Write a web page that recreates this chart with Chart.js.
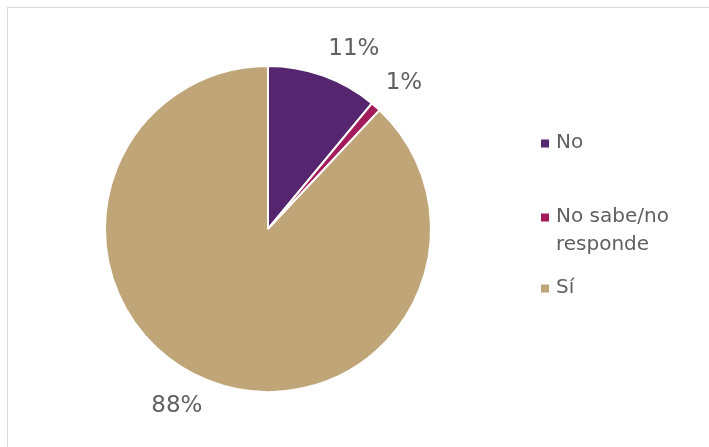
<!DOCTYPE html>
<html lang="es">
<head>
    <meta charset="UTF-8">
    <title>Encuesta</title>
    <script src="https://cdn.jsdelivr.net/npm/chart.js"></script>
    <style>
        body {
            margin: 0;
            background: #fff;
        }
        .frame {
            position: absolute;
            left: 7px;
            top: 7px;
            width: 720px;
            height: 460px;
            border: 1px solid #d9d9d9;
        }
        .wrap {
            position: absolute;
            left: 0;
            top: 0;
            width: 709px;
            height: 447px;
        }
    </style>
</head>
<body>
    <div class="frame"></div>
    <div class="wrap"><canvas id="pie" width="709" height="447"></canvas></div>

    <script>
        // Datos
        const categories = ['No', 'No sabe/no responde', 'Sí'];
        const legendLines = [['No'], ['No sabe/no', 'responde'], ['Sí']];
        const values = [11, 1, 88];
        const colors = ['#55256f', '#a21c5c', '#bfa577'];

        const textColor = '#606060';
        const fontFamily = '"DejaVu Sans", sans-serif';

        // etiquetas de porcentaje fuera de cada sector
        const outsideLabels = {
            id: 'outsideLabels',
            afterDatasetsDraw(chart) {
                const ctx = chart.ctx;
                const meta = chart.getDatasetMeta(0);
                ctx.save();
                ctx.font = '23px ' + fontFamily;
                ctx.fillStyle = textColor;
                ctx.textAlign = 'center';
                ctx.textBaseline = 'middle';
                meta.data.forEach((arc, i) => {
                    const p = arc.getProps(['x', 'y', 'startAngle', 'endAngle', 'outerRadius'], true);
                    const mid = (p.startAngle + p.endAngle) / 2;
                    const dx = Math.cos(mid), dy = Math.sin(mid);
                    const txt = values[i] + '%';
                    const hw = ctx.measureText(txt).width / 2;
                    const hh = 12;
                    const r = p.outerRadius + 15;
                    const x = p.x + r * dx + Math.sign(dx) * hw;
                    const y = p.y + r * dy + Math.sign(dy) * hh;
                    ctx.fillText(txt, x, y);
                });
                ctx.restore();
            }
        };

        // leyenda a la derecha
        const sideLegend = {
            id: 'sideLegend',
            afterDraw(chart) {
                const ctx = chart.ctx;
                const area = chart.chartArea;
                const x0 = area.right + 109;
                const rows = [143, 217, 288];
                const lineH = 28;
                ctx.save();
                ctx.font = '20px ' + fontFamily;
                ctx.textBaseline = 'middle';
                ctx.textAlign = 'left';
                legendLines.forEach((lines, i) => {
                    ctx.fillStyle = colors[i];
                    ctx.fillRect(x0, rows[i] - 3.5, 8, 8);
                    ctx.fillStyle = textColor;
                    lines.forEach((t, j) => ctx.fillText(t, x0 + 15, rows[i] + j * lineH));
                });
                ctx.restore();
            }
        };

        new Chart(document.getElementById('pie'), {
            type: 'pie',
            data: {
                labels: categories,
                datasets: [{
                    data: values,
                    backgroundColor: colors,
                    borderColor: '#ffffff',
                    borderWidth: 2,
                    hoverOffset: 0
                }]
            },
            options: {
                responsive: false,
                animation: false,
                layout: {
                    padding: { left: 104, right: 277, top: 65, bottom: 54 }
                },
                plugins: {
                    legend: { display: false },
                    tooltip: { enabled: false }
                }
            },
            plugins: [outsideLabels, sideLegend]
        });
    </script>
</body>
</html>
